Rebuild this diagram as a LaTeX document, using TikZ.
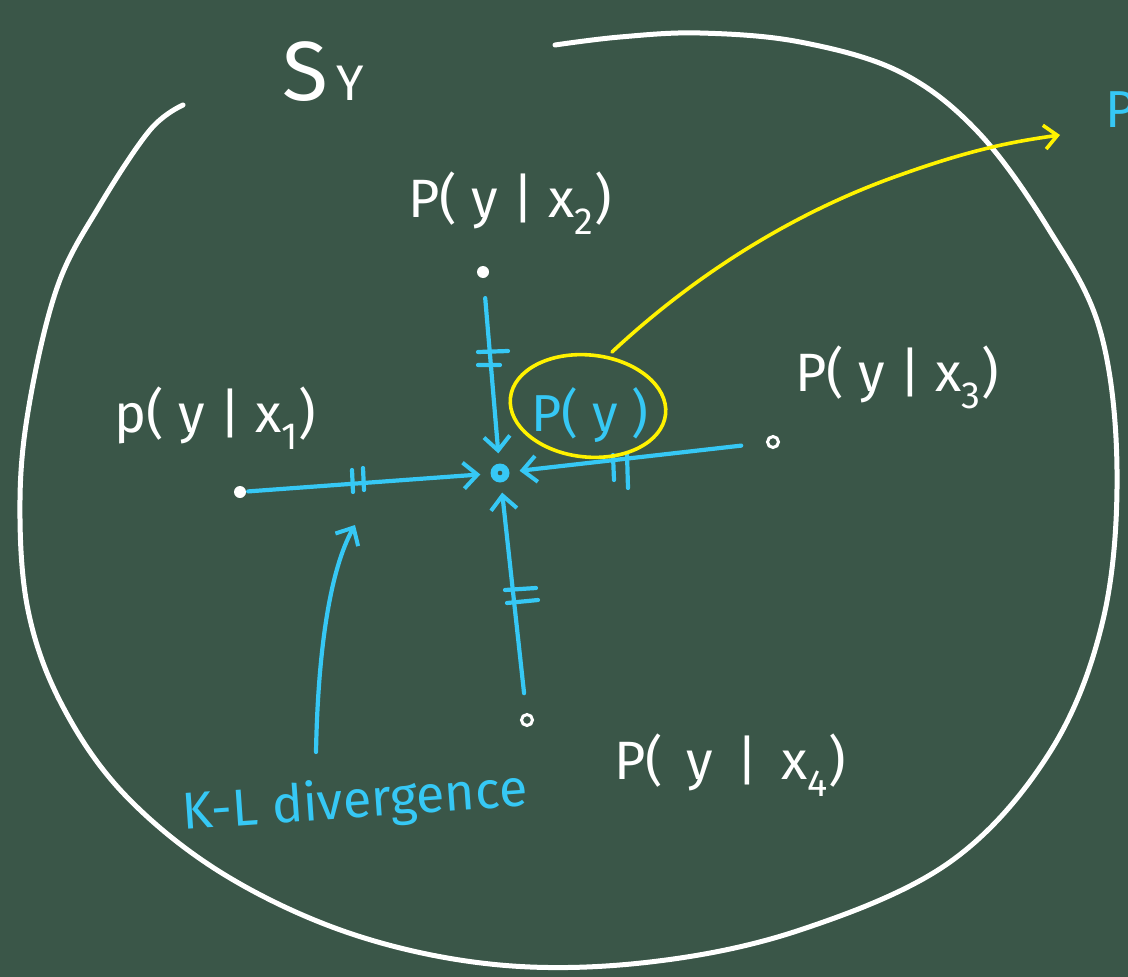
\documentclass[tikz,border=0pt]{standalone}
\usepackage{fontspec}
\setmainfont{Fira Sans}
\usetikzlibrary{arrows.meta}
\definecolor{board}{RGB}{58,86,72}
\definecolor{chalkblue}{RGB}{54,200,245}
\definecolor{chalkyellow}{RGB}{255,242,0}
\tikzset{
  chalk/.style={white, line width=5pt, line cap=round, line join=round},
  bluechalk/.style={chalkblue, line width=4.2pt, line cap=round, line join=round},
  yellowchalk/.style={chalkyellow, line width=3.6pt, line cap=round, line join=round},
  barb/.style={-{Straight Barb[length=14pt,width=26pt,line width=4pt]}},
  wlabel/.style={white, font=\fontsize{54}{64}\selectfont, inner sep=0pt},
  blabel/.style={chalkblue, font=\fontsize{52}{62}\selectfont, inner sep=0pt},
  wdot/.style={circle, fill=white, minimum size=12pt, inner sep=0pt},
  wring/.style={circle, draw=white, line width=3pt, fill=board, minimum size=11pt, inner sep=0pt},
}
\begin{document}
\begin{tikzpicture}[x=1pt,y=-1pt]
\fill[board] (0,0) rectangle (1128,977);
\useasboundingbox (0,0) rectangle (1128,977);
\clip (0,0) rectangle (1128,977);
% big set boundary
\draw[chalk] plot[smooth, tension=0.6] coordinates {(183,105) (150,130) (100,205) (58,285) (30,400) (20,500) (28,610) (62,705) (125,795) (225,875) (355,935) (500,965) (650,962) (800,930) (950,862) (1050,752) (1103,620) (1117,470) (1100,330) (1048,228) (978,132) (900,72) (800,42) (700,33) (620,37) (555,45)};
\node[wlabel, font=\fontsize{84}{90}\selectfont, anchor=base] (sy) at (305,100) {S};
\node[wlabel, font=\fontsize{50}{60}\selectfont, anchor=base] (syy) at (350,100) {Y};
% points
\node[wdot] (x2) at (483,272) {};
\node[wdot] (x1) at (240,492) {};
\node[wring] (x3) at (773,442) {};
\node[wring] (x4) at (527,720) {};
\node[circle, fill=chalkblue, minimum size=19pt, inner sep=0pt] (py) at (500,473) {};
\fill[board] (py.center) circle (2.3pt);
% labels
\node[wlabel] (l2) at (510,203) {P( y | x\textsubscript{2})};
\node[wlabel] (l1) at (215,418) {p( y | x\textsubscript{1})};
\node[wlabel] (l3) at (897,377) {P( y | x\textsubscript{3})};
\node[wlabel] (l4) at (730,765) {P(\, y \,|\, x\textsubscript{4})};
\node[blabel] (pyl) at (590,415) {P( y )};
\node[blabel, rotate=4] (kl) at (355,803) {K-L divergence};
\node[blabel, anchor=west] (pcut) at (1105,110) {P};
% connectors with arrows
\draw[bluechalk, barb, shorten <=20pt, shorten >=10pt] (x2) -- (py);
\draw[bluechalk, barb, shorten <=2pt, shorten >=10pt] (x1) -- (py);
\draw[bluechalk, barb, shorten <=25pt, shorten >=10pt] (x3) -- (py);
\draw[bluechalk, barb, shorten <=20pt, shorten >=10pt] (x4) -- (py);
% equality ticks
\draw[bluechalk] (478,352) -- (508,351) (478,365) -- (500,365);
\draw[bluechalk] (352,470) -- (353,492) (363,468) -- (364,490);
\draw[bluechalk] (613,455) -- (614,480) (627,453) -- (628,488);
\draw[bluechalk] (505,590) -- (536,588) (507,603) -- (538,600);
% K-L arrow
\coordinate (klstart) at (316,752);
\draw[bluechalk, barb] (klstart) .. controls (318,650) and (330,570) .. (355,525);
% yellow circle and arrow
\draw[yellowchalk, rotate around={-6:(588,406)}] (588,406) ellipse (78pt and 51pt);
\coordinate (yend) at (1060,135);
\draw[yellowchalk, -{Straight Barb[length=13pt,width=24pt,line width=3.6pt]}] (612,352) .. controls (700,270) and (800,210) .. (900,175) .. controls (970,150) and (1010,142) .. (yend);
\end{tikzpicture}
\end{document}
